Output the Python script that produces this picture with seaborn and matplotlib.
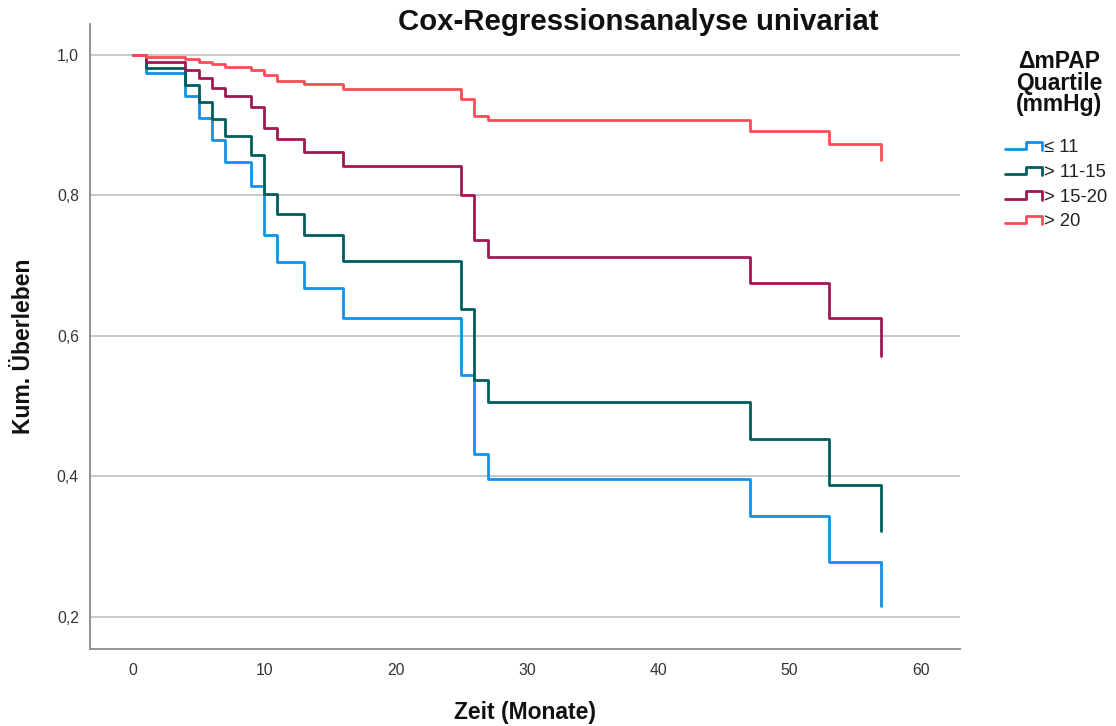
import numpy as np
import pandas as pd
import matplotlib
matplotlib.use("Agg")
import matplotlib.pyplot as plt
from matplotlib.lines import Line2D
from matplotlib.legend_handler import HandlerBase
import seaborn as sns

# Kaplan-Meier style survival estimates (Cox model, univariate) per quartile
months = [0, 1, 4, 5, 6, 7, 9, 10, 11, 13, 16, 25, 26, 27, 47, 53, 57]
surv_q1 = [1.0, 0.974, 0.942, 0.910, 0.879, 0.847, 0.813, 0.744, 0.706, 0.668,
           0.626, 0.545, 0.432, 0.396, 0.344, 0.278, 0.216]
surv_q2 = [1.0, 0.982, 0.957, 0.933, 0.909, 0.884, 0.858, 0.802, 0.774, 0.744,
           0.707, 0.639, 0.538, 0.506, 0.454, 0.388, 0.322]
surv_q3 = [1.0, 0.990, 0.978, 0.967, 0.953, 0.941, 0.926, 0.896, 0.880, 0.862,
           0.842, 0.801, 0.736, 0.712, 0.676, 0.625, 0.571]
surv_q4 = [1.0, 0.9976, 0.9943, 0.9905, 0.9868, 0.9833, 0.9786, 0.9715, 0.963,
           0.9587, 0.9512, 0.937, 0.913, 0.9075, 0.892, 0.873, 0.850]

groups = ["\u2264 11", "> 11-15", "> 15-20", "> 20"]
colors = ["#1192e8", "#005d5d", "#9f1853", "#fa4d56"]

y_ticks = [0.2, 0.4, 0.6, 0.8, 1.0]
x_ticks = [0, 10, 20, 30, 40, 50, 60]

frames = []
for g, s in zip(groups, [surv_q1, surv_q2, surv_q3, surv_q4]):
    frames.append(pd.DataFrame({"Zeit": months, "Surv": s, "Gruppe": g}))
df = pd.concat(frames, ignore_index=True)

sns.set_theme(style="white")
plt.rcParams["font.family"] = ["Liberation Sans", "DejaVu Sans"]

fig = plt.figure(figsize=(11.16, 7.26), dpi=100)
W, H = 1116, 726
ax = fig.add_axes([90 / W, 1 - 649 / H, (960 - 90) / W, (649 - 24) / H])

sns.lineplot(data=df, x="Zeit", y="Surv", hue="Gruppe", hue_order=groups,
             palette=colors, estimator=None, sort=False, drawstyle="steps-post",
             linewidth=2.0, legend=False, ax=ax, zorder=3)

ax.set_xlim(-3.27, 62.98)
ax.set_ylim(0.1544, 1.0441)
ax.set_xticks(x_ticks)
ax.set_yticks(y_ticks)
ax.set_yticklabels([f"{v:.1f}".replace(".", ",") for v in y_ticks])
ax.tick_params(axis="both", length=0, labelsize=11.3, labelcolor="#333333")
ax.tick_params(axis="x", pad=10)
ax.tick_params(axis="y", pad=8)

ax.yaxis.grid(True, color="#c4c4c4", linewidth=1.3, zorder=0)
ax.xaxis.grid(False)
for side in ["top", "right"]:
    ax.spines[side].set_visible(False)
for side in ["left", "bottom"]:
    ax.spines[side].set_color("#8a8a8a")
    ax.spines[side].set_linewidth(1.3)

ax.set_xlabel("Zeit (Monate)", fontsize=16.5, fontweight="bold", color="#111111",
              va="center")
ax.set_ylabel("Kum. \u00dcberleben", fontsize=16.5, fontweight="bold",
              color="#111111", va="center")
ax.xaxis.set_label_coords(0.5, -0.1024)
ax.yaxis.set_label_coords(-0.0759, 0.485)

fig.text(638 / W, 1 - 22 / H, "Cox-Regressionsanalyse univariat",
         ha="center", va="center", fontsize=21.2, fontweight="bold", color="#111111")

# legend title, stacked over the legend entries
fig.text(1059 / W, 1 - 50 / H, "\u0394mPAP\nQuartile\n(mmHg)", ha="center",
         va="top", fontsize=16.5, fontweight="bold", color="#111111",
         linespacing=0.93, multialignment="center")


class StepHandler(HandlerBase):
    def create_artists(self, legend, orig_handle, xdescent, ydescent,
                       width, height, fontsize, trans):
        x0, y0 = -xdescent, -ydescent
        xs = [x0, x0 + 0.58 * width, x0 + 0.58 * width, x0 + width, x0 + width]
        ys = [y0 + 0.22 * height, y0 + 0.22 * height, y0 + 0.78 * height,
              y0 + 0.78 * height, y0 + 0.15 * height]
        ln = Line2D(xs, ys, color=orig_handle.get_color(),
                    linewidth=orig_handle.get_linewidth())
        ln.set_transform(trans)
        return [ln]


handles = [Line2D([], [], color=c, linewidth=2.0) for c in colors]
leg = ax.legend(handles, groups,
                handler_map={Line2D: StepHandler()},
                loc="upper left", bbox_to_anchor=(1005 / W, 1 - 139 / H),
                bbox_transform=fig.transFigure, frameon=False,
                fontsize=13.3, handlelength=2.0, handletextpad=0.12,
                labelspacing=0.42, borderpad=0, borderaxespad=0)
for t in leg.get_texts():
    t.set_color("#222222")

fig.savefig("out.png", dpi=100)
